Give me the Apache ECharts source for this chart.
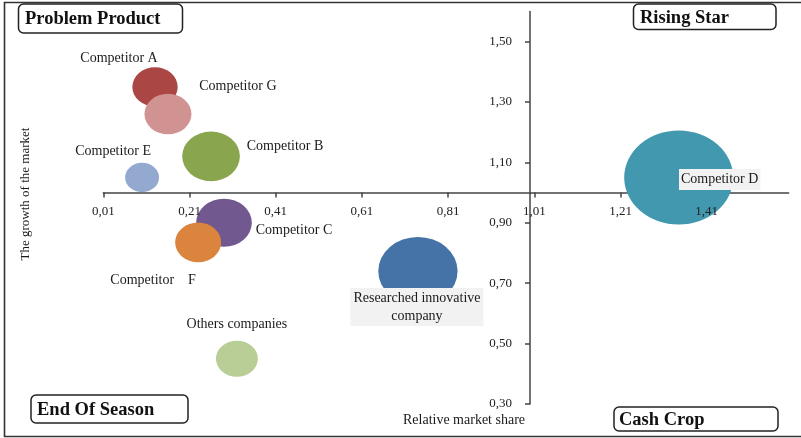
<!DOCTYPE html>
<html>
<head>
<meta charset="utf-8">
<script src="https://cdn.jsdelivr.net/npm/echarts@6/dist/echarts.min.js"></script>
<style>
  html, body { margin: 0; padding: 0; background: #fff; }
  #chart { width: 801px; height: 438px; }
</style>
</head>
<body>
<div id="chart"></div>
<script>
// Company portfolio: relative market share vs. market growth, bubble = size
const companies = ['Researched innovative company', 'Competitor A', 'Competitor B', 'Competitor C',
  'Competitor D', 'Competitor F', 'Competitor E', 'Competitor G', 'Others companies'];
const bubbleLabels = ['Researched innovative\ncompany', 'Competitor A', 'Competitor B', 'Competitor C',
  'Competitor D', 'Competitor    F', 'Competitor E', 'Competitor G', 'Others companies'];
const marketShare = [0.74, 0.13, 0.26, 0.29, 1.345, 0.23, 0.10, 0.16, 0.32];
const marketGrowth = [0.74, 1.35, 1.12, 0.90, 1.05, 0.835, 1.05, 1.26, 0.45];
const bubbleSize = [53, 17.3, 28, 26.1, 100, 17.8, 9.7, 18.6, 14.8];
const xTicks = [0.01, 0.21, 0.41, 0.61, 0.81, 1.01, 1.21, 1.41];
const yTicks = [0.30, 0.50, 0.70, 0.90, 1.10, 1.30, 1.50];
const quadrants = ['Problem Product', 'Rising Star', 'End Of Season', 'Cash Crop'];

// styling
const colors = ['#4572A7', '#AA4643', '#89A54E', '#71588F', '#4198AF', '#DB843D', '#93A9CF', '#D19392', '#B9CD96'];
const labelOffsets = [[-1, 36], [-36, -29], [74, -10], [70, 8], [41, 2], [-45, 38], [-29, -26], [70, -28], [0, -34]];
const serif = '"Liberation Serif", "DejaVu Serif", serif';
const fmt = v => Number(v).toFixed(2).replace('.', ',');
const maxBubble = Math.max(...bubbleSize);

const grid = { left: 103.3, right: 12.4, top: 11.4, bottom: 34 };
const W = 801, H = 438;

const chart = echarts.init(document.getElementById('chart'), null, { renderer: 'canvas' });

const data = companies.map((name, i) => {
  const w = 109 * Math.sqrt(bubbleSize[i] / maxBubble);
  const item = {
    name,
    value: [marketShare[i], marketGrowth[i], bubbleSize[i]],
    symbolSize: [w, w / 1.16],
    itemStyle: { color: colors[i], opacity: 1 },
    label: {
      show: true,
      position: 'inside',
      formatter: bubbleLabels[i],
      color: '#1a1a1a',
      fontFamily: serif,
      fontSize: 14,
      lineHeight: 18
    }
  };
  if (i === 0) {
    Object.assign(item.label, { backgroundColor: '#F2F2F2', padding: [1, 3, 1, 3], align: 'center' });
  }
  if (i === 4) {
    Object.assign(item.label, { backgroundColor: '#F2F2F2', padding: [4, 2, 3, 2], lineHeight: 14 });
  }
  return item;
});

function quadBox(text, x, y, w, h, tx) {
  return {
    type: 'group',
    children: [
      { type: 'rect', shape: { x, y, width: w, height: h, r: 5 },
        style: { fill: '#fff', stroke: '#222', lineWidth: 1.5 } },
      { type: 'text', x: tx, y: y + h / 2 + 1,
        style: { text, font: 'bold 18.5px ' + serif, fill: '#111', verticalAlign: 'middle' } }
    ]
  };
}

const lineStyle = { color: '#444', width: 1.5 };
const labelStyle = { fontFamily: serif, fontSize: 13, color: '#222', formatter: fmt };

const option = {
  animation: false,
  backgroundColor: '#fff',
  grid: Object.assign({ containLabel: false }, grid),
  xAxis: [
    // axis line and ticks, drawn beneath the bubbles
    {
      type: 'value', min: 0.01, max: 1.6, position: 'bottom', z: 0,
      splitLine: { show: false },
      axisLine: { show: true, onZero: false, lineStyle },
      axisTick: { show: true, length: 5, lineStyle, customValues: xTicks },
      axisLabel: { show: false }
    },
    // tick labels, drawn above the bubbles
    {
      type: 'value', min: 0.01, max: 1.6, position: 'bottom', z: 5,
      splitLine: { show: false },
      axisLine: { show: false, onZero: false },
      axisTick: { show: false },
      axisLabel: Object.assign({ customValues: xTicks, margin: 12 }, labelStyle)
    }
  ],
  yAxis: {
    type: 'value', min: 0.3, max: 1.6, position: 'left',
    splitLine: { show: false },
    axisLine: { show: true, onZero: false, lineStyle },
    axisTick: { show: true, length: 5, lineStyle, customValues: yTicks },
    axisLabel: Object.assign({ customValues: yTicks, margin: 18 }, labelStyle)
  },
  series: [{
    type: 'scatter',
    data,
    z: 3,
    emphasis: { disabled: true },
    // place each company name beside its bubble
    labelLayout: params => ({
      dx: labelOffsets[params.dataIndex][0],
      dy: labelOffsets[params.dataIndex][1],
      hideOverlap: false
    })
  }],
  graphic: [
    // outer frame
    { type: 'rect', shape: { x: 4.5, y: 2.5, width: 800, height: 434 },
      style: { fill: null, stroke: '#333', lineWidth: 1.6 }, silent: true },
    quadBox(quadrants[0], 18.5, 4, 164, 29, 25),
    quadBox(quadrants[1], 633.5, 4, 142.5, 25.5, 640),
    quadBox(quadrants[2], 31, 395, 157, 28, 37),
    quadBox(quadrants[3], 614, 407, 164, 24, 619),
    { type: 'text', x: 26, y: 194, rotation: Math.PI / 2,
      style: { text: 'The growth of the market', font: '13px ' + serif, fill: '#1a1a1a',
        align: 'center', verticalAlign: 'middle' } },
    { type: 'text', x: 464, y: 420,
      style: { text: 'Relative market share', font: '14px ' + serif, fill: '#1a1a1a',
        align: 'center', verticalAlign: 'middle' } }
  ]
};

chart.setOption(option);

// Move the axes so they cross at share = 1.0 and growth = 1.0
const crossX = chart.convertToPixel({ xAxisIndex: 0 }, 1.0);
const crossY = chart.convertToPixel({ yAxisIndex: 0 }, 1.0);
const xOffset = -((H - grid.bottom) - crossY);
chart.setOption({
  xAxis: [{ offset: xOffset }, { offset: xOffset }],
  yAxis: { offset: -(crossX - grid.left) }
});
</script>
</body>
</html>
